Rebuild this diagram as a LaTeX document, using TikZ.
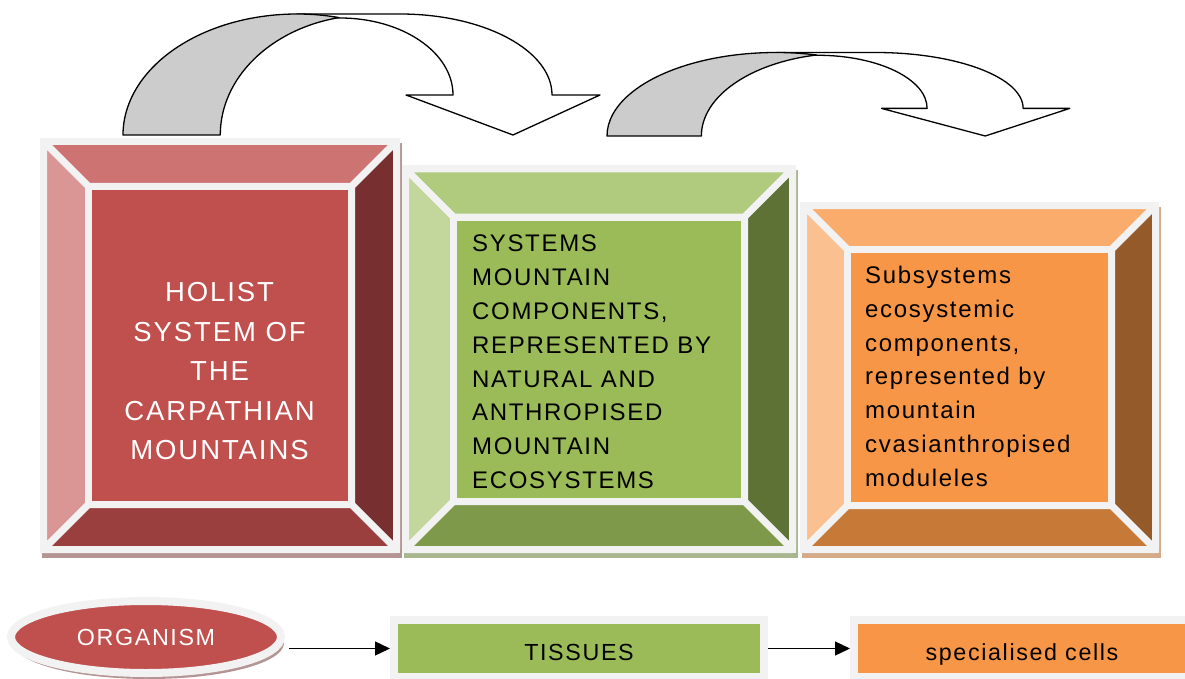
\documentclass[tikz,border=0pt]{standalone}
\usepackage{fontspec}
\setmainfont{Liberation Sans}[LetterSpace=7]
\usetikzlibrary{arrows.meta,shapes.geometric,shadows}

% colour sets for the three bevelled boxes
\definecolor{framegray}{HTML}{F2F2F2}
\definecolor{bandgray}{HTML}{CCCCCC}
\definecolor{redface}{HTML}{C0504D}
\definecolor{redtop}{HTML}{CD7371}
\definecolor{redleft}{HTML}{D99694}
\definecolor{redright}{HTML}{772F2F}
\definecolor{redbottom}{HTML}{9A3F3D}
\definecolor{redshadow}{HTML}{B59494}
\definecolor{greenface}{HTML}{9BBB59}
\definecolor{greentop}{HTML}{B0CA7E}
\definecolor{greenleft}{HTML}{C3D69B}
\definecolor{greenright}{HTML}{5E7235}
\definecolor{greenbottom}{HTML}{7E9949}
\definecolor{greenshadow}{HTML}{A9B790}
\definecolor{orangeface}{HTML}{F79646}
\definecolor{orangetop}{HTML}{F9AC6B}
\definecolor{orangeleft}{HTML}{FAC090}
\definecolor{orangeright}{HTML}{955A29}
\definecolor{orangebottom}{HTML}{C77A37}
\definecolor{orangeshadow}{HTML}{D4AA88}

\tikzset{
  facet/.style={draw=framegray, line width=7pt, line join=bevel},
  boxtext/.style={inner sep=0pt, align=left, anchor=north west, font=\fontsize{24}{33.8}\selectfont},
  flatbox/.style={rectangle, draw=framegray, line width=8pt, minimum height=57pt, inner sep=0pt,
    text height=28.8pt, text depth=5pt, font=\fontsize{23.3}{28}\selectfont},
  link/.style={-{Triangle[length=15pt,width=14pt]}, line width=1.3pt},
  bent/.style={draw=black, line width=1.3pt, line join=round}
}

% #1,#2 outer corner, #3,#4 opposite corner, #5 bevel depth, #6 colour set
\newcommand{\bevelbox}[6]{%
  \fill[#6shadow] (#1-1.5,#2+1.5) rectangle (#3+5.5,#4+8.5);
  \fill[framegray] (#1-3.5,#2-3.5) rectangle (#3+3.5,#4+3.5);
  \filldraw[facet, fill=#6top] (#1,#2) -- (#3,#2) -- (#3-#5,#2+#5) -- (#1+#5,#2+#5) -- cycle;
  \filldraw[facet, fill=#6left] (#1,#2) -- (#1+#5,#2+#5) -- (#1+#5,#4-#5) -- (#1,#4) -- cycle;
  \filldraw[facet, fill=#6right] (#3,#2) -- (#3,#4) -- (#3-#5,#4-#5) -- (#3-#5,#2+#5) -- cycle;
  \filldraw[facet, fill=#6bottom] (#1,#4) -- (#1+#5,#4-#5) -- (#3-#5,#4-#5) -- (#3,#4) -- cycle;
  \filldraw[facet, fill=#6face] (#1+#5,#2+#5) rectangle (#3-#5,#4-#5);
}

% curved block arrow, origin at the left foot of the band
\newcommand{\bendarrow}{%
  \filldraw[bent, fill=white] (174,-121) -- (277,-121)
    arc[start angle=-90, end angle=0, x radius=152, y radius=81]
    -- (477,-40) -- (390,0) -- (283,-40) -- (330,-40)
    arc[start angle=0, end angle=-90, x radius=113, y radius=77] -- cycle;
  \filldraw[bent, fill=bandgray] (0,0)
    arc[start angle=-180, end angle=-76, x radius=174, y radius=121]
    arc[start angle=-102, end angle=-180, x radius=150, y radius=120] -- cycle;
}

\begin{document}
\begin{tikzpicture}[x=1pt, y=-1pt]
\useasboundingbox (0,0) rectangle (1185,679);

% top row
\bevelbox{43.5}{141.5}{396.5}{549.5}{45}{red}
\bevelbox{405.5}{169}{792.5}{549.5}{48}{green}
\bevelbox{803.5}{205.5}{1155.5}{549.5}{44}{orange}

\begin{scope}[shift={(123,135)}]
  \bendarrow
\end{scope}
\begin{scope}[shift={(607,136)}, xscale=0.97, yscale=0.69]
  \bendarrow
\end{scope}

\node[boxtext, text=white, align=center, anchor=center, font=\fontsize{27.5}{39.5}\selectfont]
  (holist) at (219.5,371.5) {HOLIST\\SYSTEM OF\\THE\\CARPATHIAN\\MOUNTAINS};
\node[boxtext] (systems) at (472,235)
  {SYSTEMS\\MOUNTAIN\\COMPONENTS,\\REPRESENTED BY\\NATURAL AND\\ANTHROPISED\\MOUNTAIN\\ECOSYSTEMS};
\node[boxtext] (subsystems) at (865,266)
  {Subsystems\\ecosystemic\\components,\\represented by\\mountain\\cvasianthropised\\moduleles};

% bottom row
\node[ellipse, fill=redface, draw=framegray, line width=8pt, minimum width=270pt, minimum height=72pt,
  inner sep=0pt, text=white, font=\fontsize{23.3}{28}\selectfont,
  drop shadow={shadow xshift=3pt, shadow yshift=-6pt, fill=redshadow, opacity=1}]
  (organism) at (146,637) {ORGANISM};
\node[flatbox, fill=greenface, minimum width=370pt] (tissues) at (579,648.5) {TISSUES};
\node[flatbox, fill=orangeface, minimum width=336pt] (cells) at (1022,648.5) {specialised cells};

\draw[link, shorten <=4pt] (organism.east |- tissues.west) -- (tissues.west);
\draw[link] (tissues) -- (cells);

\end{tikzpicture}
\end{document}
